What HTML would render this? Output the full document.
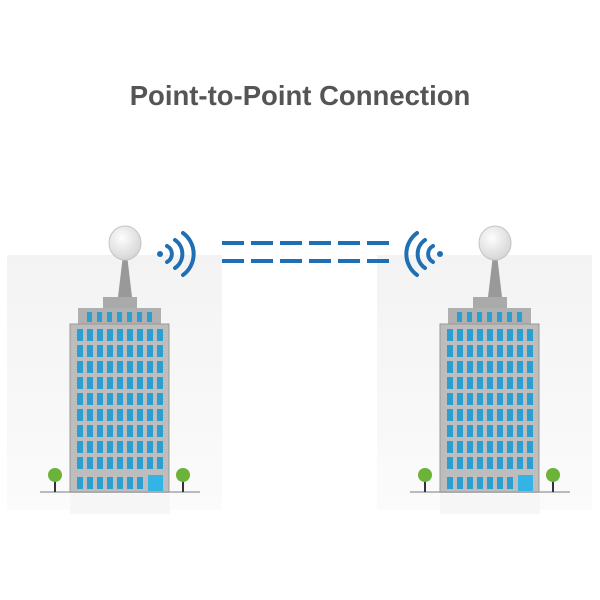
<!DOCTYPE html>
<html><head><style>
body{margin:0;width:600px;height:600px;background:#fff;overflow:hidden;position:relative;font-family:"Liberation Sans",sans-serif}
.t{position:absolute;top:80px;left:0;width:600px;text-align:center;font-size:27.5px;font-weight:bold;color:#555}
</style></head><body>
<div class="t">Point-to-Point Connection</div>
<svg width="600" height="600" style="position:absolute;left:0;top:0">
<defs>
<linearGradient id="pg" x1="0" y1="0" x2="0" y2="1"><stop offset="0" stop-color="#f3f3f3"/><stop offset="1" stop-color="#fbfbfb"/></linearGradient>
<radialGradient id="dg" cx="0.4" cy="0.35" r="0.7"><stop offset="0" stop-color="#fdfdfd"/><stop offset="1" stop-color="#d4d4d4"/></radialGradient>
<g id="b">
<rect x="7" y="255" width="215" height="255" fill="url(#pg)"/>
<line x1="40" y1="492" x2="200" y2="492" stroke="#bbb" stroke-width="2"/>
<rect x="70" y="494" width="100" height="20" fill="#f6f6f6"/>
<polygon points="118,297 132,297 127,255 123,255" fill="#999"/>
<ellipse cx="125" cy="243" rx="16" ry="17" fill="url(#dg)" stroke="#c4c4c4"/>
<rect x="103" y="297" width="34" height="11" fill="#aaa"/>
<rect x="78" y="308" width="83" height="16" fill="#b0b0b0"/>
<rect x="70" y="324" width="99" height="168" fill="#bdbdbd" stroke="#999"/>
<g fill="#2a9fd0">
<rect x="87" y="312" width="5" height="10"/><rect x="97" y="312" width="5" height="10"/><rect x="107" y="312" width="5" height="10"/><rect x="117" y="312" width="5" height="10"/><rect x="127" y="312" width="5" height="10"/><rect x="137" y="312" width="5" height="10"/><rect x="147" y="312" width="5" height="10"/>
</g>
<g id="row" fill="#2a9fd0">
<rect x="77" y="329" width="6" height="12"/><rect x="87" y="329" width="6" height="12"/><rect x="97" y="329" width="6" height="12"/><rect x="107" y="329" width="6" height="12"/><rect x="117" y="329" width="6" height="12"/><rect x="127" y="329" width="6" height="12"/><rect x="137" y="329" width="6" height="12"/><rect x="147" y="329" width="6" height="12"/><rect x="157" y="329" width="6" height="12"/>
</g>
<use href="#row" y="16"/><use href="#row" y="32"/><use href="#row" y="48"/><use href="#row" y="64"/><use href="#row" y="80"/><use href="#row" y="96"/><use href="#row" y="112"/><use href="#row" y="128"/>
<g fill="#2a9fd0"><rect x="77" y="477" width="6" height="12"/><rect x="87" y="477" width="6" height="12"/><rect x="97" y="477" width="6" height="12"/><rect x="107" y="477" width="6" height="12"/><rect x="117" y="477" width="6" height="12"/><rect x="127" y="477" width="6" height="12"/><rect x="137" y="477" width="6" height="12"/></g>
<rect x="148" y="475" width="15" height="16" fill="#33b3e6"/>
<rect x="54" y="480" width="2" height="12" fill="#333"/><circle cx="55" cy="475" r="7" fill="#6bb33a"/>
<rect x="182" y="480" width="2" height="12" fill="#333"/><circle cx="183" cy="475" r="7" fill="#6bb33a"/>
</g>
</defs>
<use href="#b"/>
<use href="#b" x="370"/>
<g fill="none" stroke="#1f6fb5" stroke-width="4" stroke-linecap="round">
<path d="M167,246 A9,9 0 0 1 167,262"/><path d="M175,240 A17,17 0 0 1 175,268"/><path d="M183,233 A26,26 0 0 1 183,275"/>
<path d="M433,246 A9,9 0 0 0 433,262"/><path d="M425,240 A17,17 0 0 0 425,268"/><path d="M417,233 A26,26 0 0 0 417,275"/>
</g>
<circle cx="160" cy="254" r="3" fill="#1f6fb5"/><circle cx="440" cy="254" r="3" fill="#1f6fb5"/>
<g fill="#1f6fb5">
<rect x="222" y="241" width="22" height="4"/><rect x="251" y="241" width="22" height="4"/><rect x="280" y="241" width="22" height="4"/><rect x="309" y="241" width="22" height="4"/><rect x="338" y="241" width="22" height="4"/><rect x="367" y="241" width="22" height="4"/>
<rect x="222" y="259" width="22" height="4"/><rect x="251" y="259" width="22" height="4"/><rect x="280" y="259" width="22" height="4"/><rect x="309" y="259" width="22" height="4"/><rect x="338" y="259" width="22" height="4"/><rect x="367" y="259" width="22" height="4"/>
</g>
</svg>
</body></html>
